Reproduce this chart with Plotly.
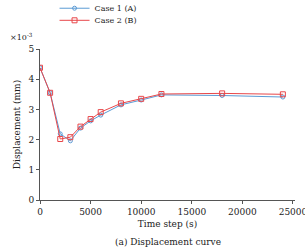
import plotly.graph_objects as go

x_vals = [0, 1000, 2000, 3000, 4000, 5000, 6000, 8000, 10000, 12000, 18000, 24000]
series_a = [4.38, 3.55, 2.19, 1.96, 2.38, 2.62, 2.81, 3.15, 3.31, 3.48, 3.46, 3.41]
series_b = [4.38, 3.55, 2.02, 2.08, 2.43, 2.68, 2.91, 3.20, 3.35, 3.51, 3.53, 3.50]
name_a = "Case 1 (A)"
name_b = "Case 2 (B)"
x_ticks = [0, 5000, 10000, 15000, 20000, 25000]
y_ticks = [0, 1, 2, 3, 4, 5]

FONT = "DejaVu Serif"
fig = go.Figure()
fig.add_trace(go.Scatter(
    x=x_vals, y=series_a, name=name_a, mode="lines+markers", legend="legend",
    line=dict(color="#5b9bd5", width=1),
    marker=dict(symbol="circle-open", size=4, color="#5b9bd5", line=dict(width=1)),
))
fig.add_trace(go.Scatter(
    x=x_vals, y=series_b, name=name_b, mode="lines+markers", legend="legend2",
    line=dict(color="#e8474a", width=1),
    marker=dict(symbol="square-open", size=5, color="#e8474a", line=dict(width=1)),
))
axis_common = dict(
    showline=True, linecolor="#555555", linewidth=1, ticks="outside",
    ticklen=3, tickcolor="#555555", showgrid=False, zeroline=False,
    tickfont=dict(family=FONT, size=9, color="#222222"),
    ticklabeloverflow="allow",
)
fig.update_xaxes(range=[0, 25200], tickvals=x_ticks, tickformat="d", **axis_common,
                 title=dict(text="Time step (s)", font=dict(family=FONT, size=9, color="#222222"), standoff=4))
fig.update_yaxes(range=[0, 5], tickvals=y_ticks, **axis_common,
                 title=dict(text="Displacement (mm)", font=dict(family=FONT, size=9, color="#222222"), standoff=6))
fig.add_annotation(x=-0.02, y=1.03, xref="paper", yref="paper", text="×10<sup>-3</sup>",
                   showarrow=False, xanchor="right", yanchor="bottom",
                   font=dict(family=FONT, size=8, color="#222222"))
fig.add_annotation(x=0.5, y=-0.28, xref="paper", yref="paper", text="(a) Displacement curve",
                   showarrow=False, xanchor="center", yanchor="middle",
                   font=dict(family=FONT, size=9, color="#222222"))
leg_common = dict(xanchor="left", yanchor="middle", bgcolor="rgba(0,0,0,0)",
                  font=dict(family=FONT, size=8, color="#222222"), itemwidth=30)
fig.update_layout(
    width=305, height=251,
    margin=dict(l=40, r=10, t=49, b=51, autoexpand=False),
    plot_bgcolor="white", paper_bgcolor="white",
    legend=dict(x=0.057, y=1.27, **leg_common),
    legend2=dict(x=0.057, y=1.19, **leg_common),
    showlegend=True,
)
fig.write_html("out.html")
